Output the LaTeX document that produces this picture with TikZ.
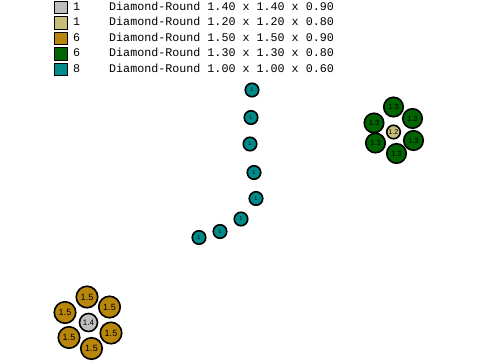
\documentclass[tikz,border=0pt]{standalone}
\usepackage{fontspec}
\setmainfont{Liberation Sans}
\setmonofont{Liberation Mono}
\definecolor{pelgray}{RGB}{190,190,190}
\definecolor{pelkhaki}{RGB}{200,190,122}
\definecolor{pelgold}{RGB}{184,134,11}
\definecolor{pelgreen}{RGB}{0,100,0}
\definecolor{pelteal}{RGB}{0,139,139}

\begin{document}
\begin{tikzpicture}[x=1pt,y=-1pt]
\tikzset{
  legbox/.style={rectangle,draw,line width=1pt,minimum size=12.5pt,inner sep=0pt},
  legtext/.style={anchor=mid west,inner sep=0pt,font=\fontsize{11.7}{12}\ttfamily},
  pellet/.style={circle,draw,line width=1.6pt,inner sep=0pt,text=black},
  bigpel/.style={pellet,fill=pelgold,minimum size=21.5pt,font=\fontsize{9}{9}\selectfont},
  midpel/.style={pellet,fill=pelgreen,minimum size=19.5pt,font=\fontsize{7.5}{8}\selectfont},
  corepel/.style={pellet,minimum size=18pt,font=\fontsize{8}{8}\selectfont},
  smallpel/.style={pellet,minimum size=13.5pt,font=\fontsize{7}{7}\selectfont},
  tinypel/.style={pellet,fill=pelteal,minimum size=13.5pt,font=\fontsize{5.5}{6}\selectfont}
}
\useasboundingbox[fill=white] (0,0) rectangle (480,360);
% legend
\node[legbox,fill=pelgray] (k_gray) at (61,7.5) {};
\node[legbox,fill=pelkhaki] (k_khaki) at (61,23) {};
\node[legbox,fill=pelgold] (k_gold) at (61,38.5) {};
\node[legbox,fill=pelgreen] (k_green) at (61,54) {};
\node[legbox,fill=pelteal] (k_teal) at (61,69.5) {};
\node[legtext] (c_gray) at (73,7.5) {1};
\node[legtext] (c_khaki) at (73,23) {1};
\node[legtext] (c_gold) at (73,38.5) {6};
\node[legtext] (c_green) at (73,54) {6};
\node[legtext] (c_teal) at (73,69.5) {8};
\node[legtext] (t_gray) at (109,7.5) {Diamond-Round 1.40 x 1.40 x 0.90};
\node[legtext] (t_khaki) at (109,23) {Diamond-Round 1.20 x 1.20 x 0.80};
\node[legtext] (t_gold) at (109,38.5) {Diamond-Round 1.50 x 1.50 x 0.90};
\node[legtext] (t_green) at (109,54) {Diamond-Round 1.30 x 1.30 x 0.80};
\node[legtext] (t_teal) at (109,69.5) {Diamond-Round 1.00 x 1.00 x 0.60};
% gold cluster
\node[corepel,fill=pelgray] (p_core1) at (88.5,322.5) {1.4};
\node[bigpel] (p_g1) at (87,297) {1.5};
\node[bigpel] (p_g2) at (109.5,307) {1.5};
\node[bigpel] (p_g3) at (111,333) {1.5};
\node[bigpel] (p_g4) at (91.5,348.5) {1.5};
\node[bigpel] (p_g5) at (69,337.5) {1.5};
\node[bigpel] (p_g6) at (65,312.5) {1.5};
% green cluster
\node[smallpel,fill=pelkhaki] (p_core2) at (393.5,132) {1.2};
\node[midpel] (p_d1) at (393.5,107) {1.3};
\node[midpel] (p_d2) at (412.5,118.5) {1.3};
\node[midpel] (p_d3) at (413.5,140.5) {1.3};
\node[midpel] (p_d4) at (396.5,153.5) {1.3};
\node[midpel] (p_d5) at (375.5,143) {1.3};
\node[midpel] (p_d6) at (374,123) {1.3};
% teal chain
\node[tinypel] (p_t1) at (252,90) {1};
\node[tinypel] (p_t2) at (251,117.5) {1};
\node[tinypel] (p_t3) at (250,144) {1};
\node[tinypel] (p_t4) at (254,172.5) {1};
\node[tinypel] (p_t5) at (256,198.5) {1};
\node[tinypel] (p_t6) at (241,219) {1};
\node[tinypel] (p_t7) at (220,231.5) {1};
\node[tinypel] (p_t8) at (199,237.5) {1};
\end{tikzpicture}
\end{document}
